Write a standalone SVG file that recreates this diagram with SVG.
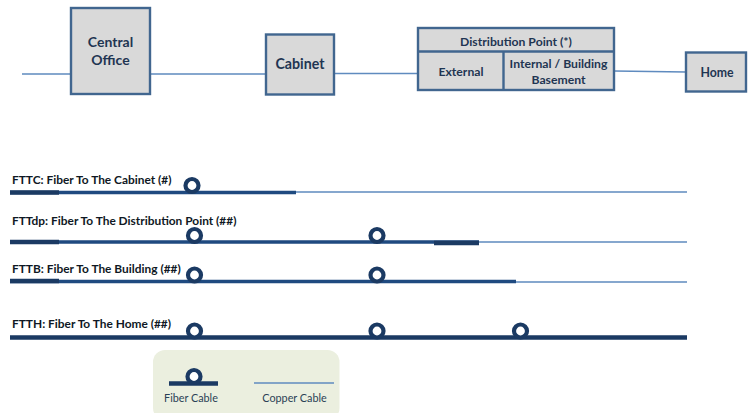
<svg xmlns="http://www.w3.org/2000/svg" width="748" height="413" viewBox="0 0 748 413">
<style>
text{font-family:Lato,"Open Sans","Liberation Sans",sans-serif;font-weight:700}
.box{fill:#d9d9d9;stroke:#41668f;stroke-width:2.4}
.n{fill:#1f3552;text-anchor:middle}
.lab{fill:#0f1824;font-size:11.900px}
.cu{fill:none;stroke:#5f8bbf;stroke-width:1.4}
.fi{fill:none;stroke:#1f4a80;stroke-width:3.6}
.fd{fill:none;stroke:#1b3a63;stroke-width:4.6}
.loop{fill:#fff;stroke:#1b3a63;stroke-width:4.2}
.leg{font-weight:400;font-size:10.800px;fill:#2a3f55;text-anchor:middle}
</style>
<rect width="748" height="413" fill="#fff"/>
<g id="connectors">
<path class="cu" d="M22 74H71M150 74H266M334 73.500H418M614 71L686 72"/>
<path class="cu" d="M296 192H687M479 242H687M516 282H687"/>
<path class="fi" d="M10 192.500H296M10 242H479M10 281.500H516"/>
<path class="fd" d="M10 192.500H59M10 242H59M10 281H59M434 243H479M10 337.500H687"/>
</g>
<g id="central-office"><rect class="box" x="71" y="8" width="79" height="86"/>
<text class="n" font-size="14" x="110.500" y="47">Central</text><text class="n" font-size="14" x="110.500" y="65">Office</text></g>
<g id="cabinet"><rect class="box" x="266" y="34.500" width="68" height="60"/>
<text class="n" font-size="14.200" x="300" y="69">Cabinet</text></g>
<g id="distribution-point"><rect class="box" x="418" y="28" width="196" height="62"/>
<path class="box" fill="none" d="M418 51.500H614M503.500 51.500V90"/>
<text class="n" font-size="12.200" x="516" y="45.500">Distribution Point (*)</text>
<text class="n" font-size="12.200" x="461" y="76">External</text>
<text class="n" font-size="12.200" x="558.500" y="68">Internal / Building</text>
<text class="n" font-size="12.200" x="558.500" y="84">Basement</text></g>
<g id="home"><rect class="box" x="686" y="52.500" width="60" height="39"/>
<text class="n" font-size="12.300" x="717" y="77">Home</text></g>
<g id="fttc"><text class="lab" x="12" y="183.500">FTTC: Fiber To The Cabinet (#)</text><circle class="loop" cx="192" cy="185.500" r="6.500"/></g>
<g id="fttdp"><text class="lab" x="12" y="224.500">FTTdp: Fiber To The Distribution Point (##)</text><circle class="loop" cx="194.500" cy="235.500" r="6.500"/><circle class="loop" cx="377" cy="235.500" r="6.500"/></g>
<g id="fttb"><text class="lab" x="12" y="273">FTTB: Fiber To The Building (##)</text><circle class="loop" cx="194.500" cy="275" r="6.500"/><circle class="loop" cx="377" cy="275" r="6.500"/></g>
<g id="ftth"><text class="lab" x="12" y="328">FTTH: Fiber To The Home (##)</text><circle class="loop" cx="194.500" cy="331" r="6.500"/><circle class="loop" cx="377" cy="331" r="6.500"/><circle class="loop" cx="520.500" cy="331" r="6.500"/></g>
<g id="legend"><rect x="153" y="350" width="186.500" height="70" rx="12" fill="#ebefdf"/>
<path class="fd" d="M169 383.500H218"/><circle class="loop" cx="194" cy="376.500" r="6.500"/>
<path class="cu" d="M254 383H334"/>
<text class="leg" x="191" y="402">Fiber Cable</text>
<text class="leg" x="294.500" y="402">Copper Cable</text></g>
</svg>
